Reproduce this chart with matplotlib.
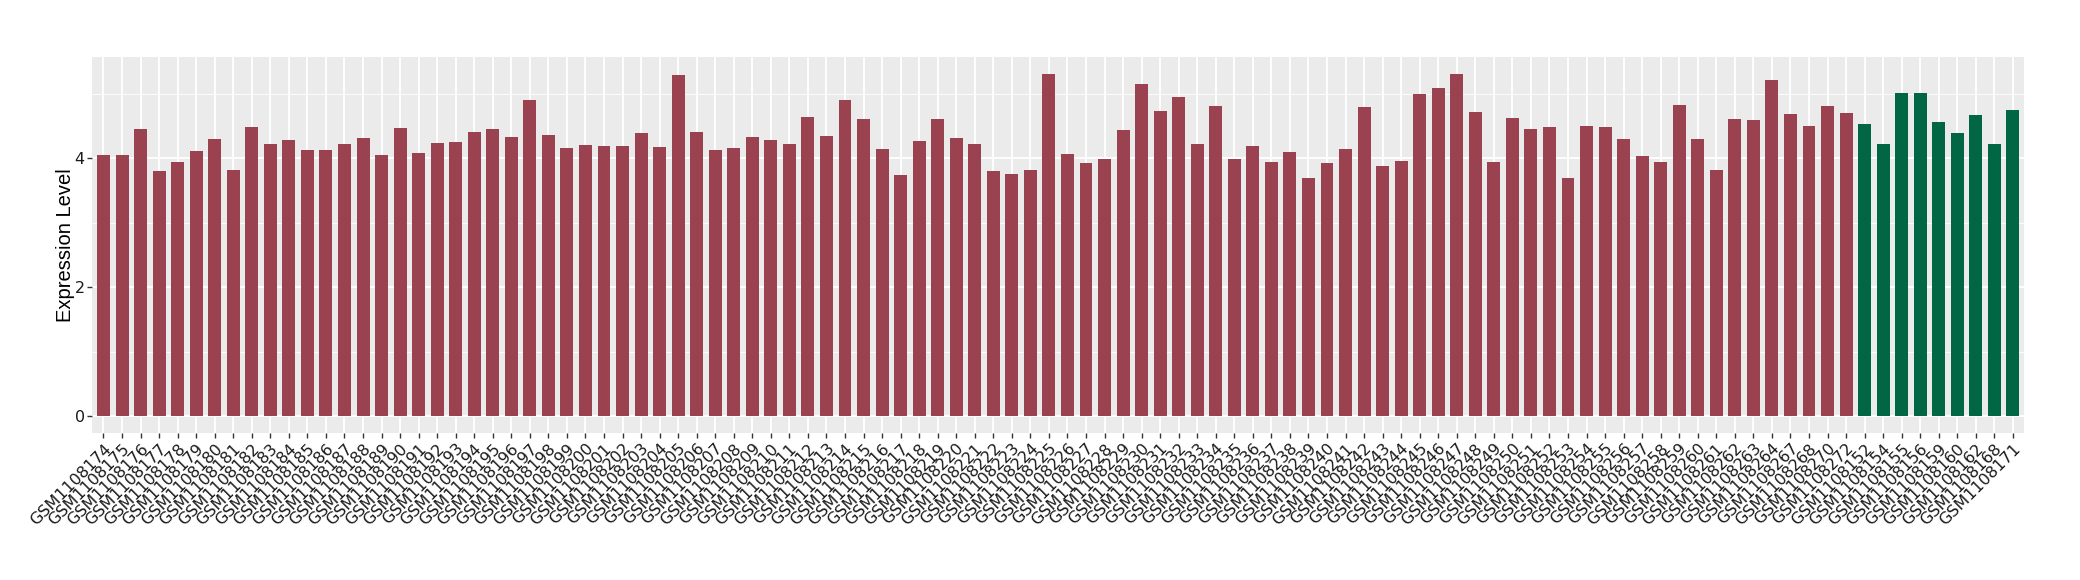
import numpy as np
import matplotlib
matplotlib.use("Agg")
import matplotlib.pyplot as plt

# sample ids (normal group first, then the second group)
grupo1_ids = [str(n) for n in range(1108174, 1108265)] + ["1108267", "1108268", "1108270", "1108272"]
grupo2_ids = ["1108152", "1108154", "1108155", "1108156", "1108159", "1108160", "1108162", "1108168", "1108171"]

grupo1_vals = [4.05, 4.05, 4.46, 3.80, 3.94, 4.11, 4.30, 3.82, 4.49, 4.22,
               4.28, 4.13, 4.13, 4.22, 4.32, 4.05, 4.47, 4.08, 4.24, 4.25,
               4.41, 4.46, 4.33, 4.91, 4.36, 4.16, 4.21, 4.19, 4.19, 4.39,
               4.18, 5.30, 4.41, 4.13, 4.16, 4.33, 4.28, 4.22, 4.64, 4.35,
               4.91, 4.61, 4.15, 3.74, 4.27, 4.61, 4.32, 4.22, 3.80, 3.76,
               3.82, 5.31, 4.07, 3.93, 3.99, 4.44, 5.16, 4.74, 4.95, 4.22,
               4.81, 3.99, 4.19, 3.94, 4.10, 3.69, 3.93, 4.15, 4.80, 3.88,
               3.96, 5.00, 5.09, 5.31, 4.72, 3.94, 4.63, 4.46, 4.49, 3.69,
               4.50, 4.49, 4.30, 4.04, 3.94, 4.83, 4.30, 3.82, 4.61, 4.60,
               5.22, 4.69, 4.50, 4.82, 4.70]
grupo2_vals = [4.53, 4.22, 5.02, 5.02, 4.56, 4.40, 4.67, 4.23, 4.75]

color1 = "#9B4251"
color2 = "#006644"

muestras = ["GSM" + s for s in grupo1_ids + grupo2_ids]
valores = grupo1_vals + grupo2_vals
colores = [color1] * len(grupo1_vals) + [color2] * len(grupo2_vals)

plt.rcParams["font.family"] = ["DejaVu Sans"]

fig = plt.figure(figsize=(20.8, 5.8), dpi=100)
ax = fig.add_axes([0.0444, 0.253, 0.9287, 0.649])

x = np.arange(len(muestras))
ax.bar(x, valores, width=0.7, color=colores, zorder=3)

# estilo tipo ggplot (theme_gray)
ax.set_facecolor("#EBEBEB")
for s in ax.spines.values():
    s.set_visible(False)
ymax = max(valores)
ax.set_ylim(-0.05 * ymax, 1.05 * ymax)
ax.set_xlim(-0.6, len(muestras) - 1 + 0.6)
ax.set_yticks([0, 2, 4])
ax.set_yticks([1, 3, 5], minor=True)
ax.set_xticks(x)
ax.grid(which="major", color="white", linewidth=1.3, zorder=0)
ax.grid(which="minor", axis="y", color="white", linewidth=0.6, zorder=0)
ax.tick_params(axis="both", which="major", length=3.5, width=1, color="#333333", pad=2)
ax.tick_params(axis="y", which="minor", length=0)
ax.tick_params(axis="y", labelsize=11.5, labelcolor="#1A1A1A")
ax.set_xticklabels(muestras, rotation=45, ha="right", va="top",
                   rotation_mode="anchor", fontsize=11.5, color="#1A1A1A")
ax.set_ylabel("Expression Level", fontsize=14.5, labelpad=0,
              family=["Liberation Sans", "DejaVu Sans"])

fig.savefig("out.png", dpi=100)
